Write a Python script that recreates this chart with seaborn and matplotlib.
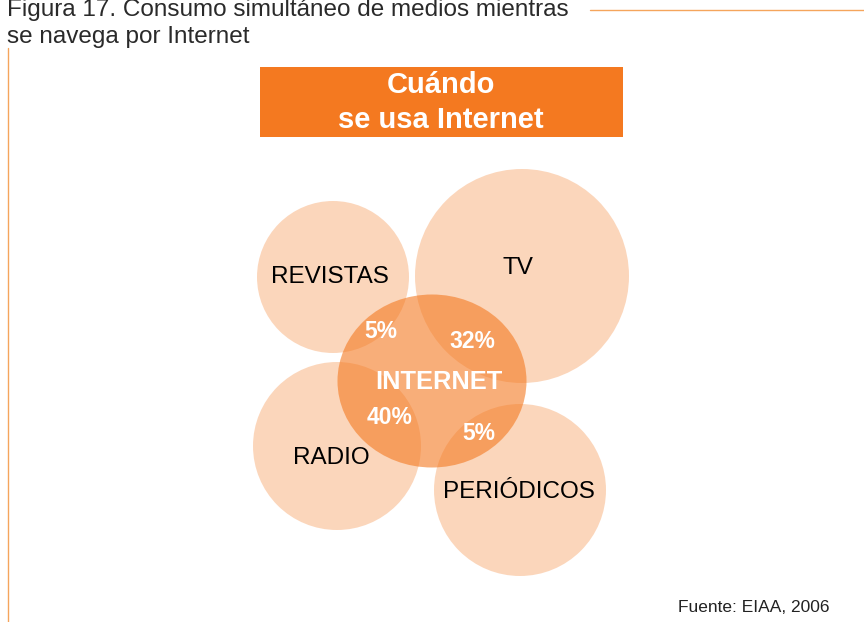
import matplotlib
matplotlib.use("Agg")
import matplotlib.pyplot as plt
from matplotlib.patches import Circle, Ellipse, Rectangle
import seaborn as sns

# data
medios = ["REVISTAS", "TV", "RADIO", "PERIÓDICOS"]
porcentajes = ["5%", "32%", "40%", "5%"]
centro = "INTERNET"
titulo = ["Figura 17. Consumo simultáneo de medios mientras", "se navega por Internet"]
caja = ["Cuándo", "se usa Internet"]
fuente = "Fuente: EIAA, 2006"

# layout (pixels, y down)
circ_xy = [(333, 277), (522, 276), (337, 446), (520, 490)]
circ_r = [76, 107, 84, 86]
label_xy = [(330, 277), (518, 268), (331, 458), (519, 492)]
pct_xy = [(381, 331), (472, 342), (390, 418), (479, 433)]
inet_xy, inet_w, inet_h = (432, 381), 189, 173

naranja = "#F47920"

sns.set_theme(style="white")
plt.rcParams["font.family"] = ["Liberation Sans", "DejaVu Sans"]

fig = plt.figure(figsize=(8.64, 6.22), dpi=100)
ax = fig.add_axes([0, 0, 1, 1])
ax.set_xlim(0, 864)
ax.set_ylim(622, 0)
ax.axis("off")

# marco
ax.plot([590, 864], [10, 10], color="#F5A55C", lw=1)
ax.plot([8, 8], [48, 622], color="#F5A55C", lw=1)

ax.text(7, 16, titulo[0], fontsize=17.5, color="#2a2a2a", va="baseline")
ax.text(7, 43, titulo[1], fontsize=17.5, color="#2a2a2a", va="baseline")

ax.add_patch(Rectangle((260, 67), 363, 70, color=naranja, lw=0))
ax.text(441, 85, caja[0], fontsize=21, color="white", weight="bold", ha="center", va="center")
ax.text(441, 120, caja[1], fontsize=21, color="white", weight="bold", ha="center", va="center")

for (x, y), r in zip(circ_xy, circ_r):
    ax.add_patch(Circle((x, y), r, color=naranja, alpha=0.3, lw=0))
ax.add_patch(Ellipse(inet_xy, inet_w, inet_h, color=naranja, alpha=0.6, lw=0))

for m, (x, y) in zip(medios, label_xy):
    ax.text(x, y, m, fontsize=17.5, color="black", ha="center", va="center")
for p, (x, y) in zip(porcentajes, pct_xy):
    ax.text(x, y, p, fontsize=16.5, color="white", weight="bold", ha="center", va="center")
ax.text(439, 382, centro, fontsize=18.3, color="white", weight="bold", ha="center", va="center")

ax.text(829, 608, fuente, fontsize=12.5, color="#222222", ha="right", va="center")

fig.savefig("out.png", dpi=100)
